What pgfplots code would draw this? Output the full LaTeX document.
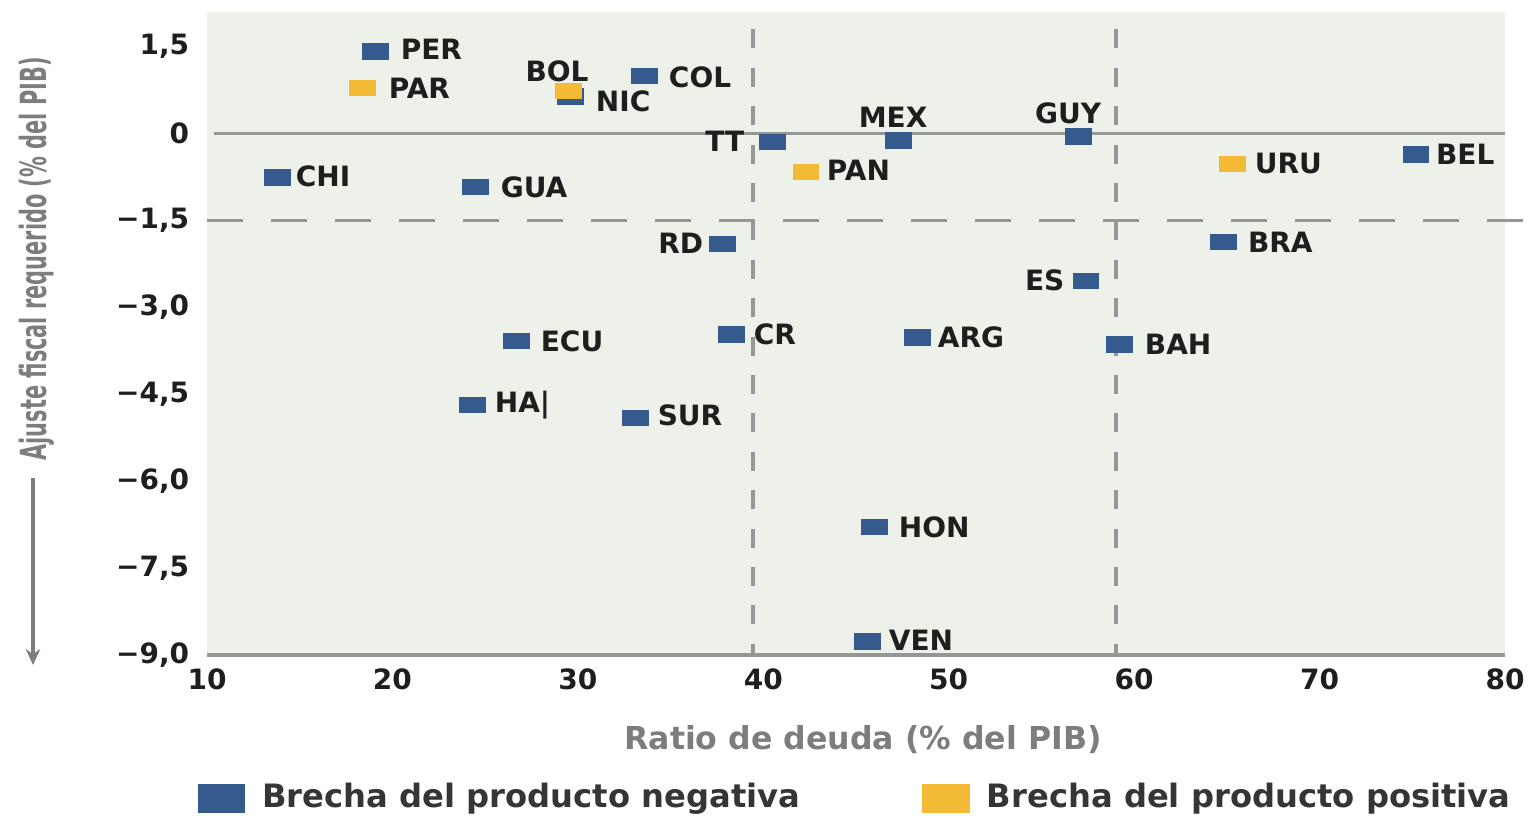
\documentclass[border=0pt]{standalone}
\usepackage{fontspec}
\setmainfont{DejaVu Sans}
\newfontfamily\condfont[FakeStretch=0.58]{DejaVu Sans}
\usepackage{pgfplots}
\pgfplotsset{compat=1.18}
\usetikzlibrary{arrows.meta}

\definecolor{negblue}{RGB}{53,91,142}
\definecolor{posyel}{RGB}{243,186,53}
\definecolor{bgcol}{RGB}{237,241,234}
\definecolor{linecol}{RGB}{150,150,150}
\definecolor{labcol}{RGB}{30,30,30}
\definecolor{titcol}{RGB}{125,125,125}

\begin{document}
\begin{tikzpicture}
\begin{axis}[
    scale only axis,
    width=324.5pt, height=160.75pt,
    xmin=10, xmax=80, ymin=-9, ymax=2.1,
    xtick={10,20,30,40,50,60,70,80},
    xticklabels={10,20,30,40,50,60,70,80},
    ytick={-9,-7.5,-6,-4.5,-3,-1.5,0,1.5},
    yticklabels={{−9,0},{−7,5},{−6,0},{−4,5},{−3,0},{−1,5},{0},{1,5}},
    axis line style={draw=none},
    major tick length=0pt,
    axis background/.style={fill=bgcol},
    tick label style={font=\fontsize{7}{8}\selectfont\bfseries, text=labcol, inner sep=0pt},
    yticklabel style={xshift=-4.25pt},
    xticklabel style={yshift=-3.25pt},
    clip=false,
    legend columns=2,
    legend style={at={(rel axis cs:-0.0077,-0.2235)}, anchor=west,
        draw=none, fill=none, inner sep=0pt,
        font=\fontsize{8.05}{9.6}\selectfont\bfseries, text=labcol!90,
        nodes={inner sep=0pt},
        /tikz/every odd column/.append style={column sep=4.25pt},
        /tikz/every even column/.append style={column sep=30.5pt}},
    legend image code/.code={\fill[#1] (0pt,-3.4pt) rectangle (11.5pt,3.4pt);},
]

% reference lines
\addplot[forget plot, linecol, line width=0.8pt] coordinates {(10,-9) (80,-9)};
\addplot[forget plot, linecol, line width=0.8pt] coordinates {(10.4,0) (80,0)};
\addplot[forget plot, linecol, line width=0.9pt, dash pattern=on 9pt off 7pt]
    coordinates {(10,-1.5) (81.1,-1.5)};
\addplot[forget plot, linecol, line width=1pt, dash pattern=on 4.75pt off 4.85pt]
    coordinates {(39.45,1.8) (39.45,-9)};
\addplot[forget plot, linecol, line width=1pt, dash pattern=on 4.75pt off 4.85pt]
    coordinates {(59.0,1.8) (59.0,-9)};

% negative output gap
\addplot[only marks, mark=square*, mark size=1.85pt, color=negblue,
    mark options={xscale=1.7}] coordinates {
    (19.1,1.42) (33.6,1.0) (29.6,0.64) (40.5,-0.14) (47.3,-0.12)
    (57.0,-0.05) (75.2,-0.36) (13.8,-0.76) (24.5,-0.92) (37.8,-1.9)
    (64.8,-1.87) (57.4,-2.54) (26.7,-3.58) (38.3,-3.47) (48.3,-3.52)
    (59.2,-3.64) (24.3,-4.68) (33.1,-4.91) (46.0,-6.79) (45.6,-8.77)
};
\addlegendentry{Brecha del producto negativa}

% positive output gap
\addplot[only marks, mark=square*, mark size=1.85pt, color=posyel,
    mark options={xscale=1.7}] coordinates {
    (18.4,0.79) (29.5,0.74) (42.3,-0.66) (65.3,-0.52)
};
\addlegendentry{Brecha del producto positiva}

% country labels
\begin{scope}[every node/.style={font=\fontsize{7}{8}\selectfont\bfseries, text=labcol, inner sep=0pt}]
\node[anchor=west] at (axis cs:20.41,1.45) {PER};
\node[anchor=west] at (axis cs:19.76,0.79) {PAR};
\node at (axis cs:28.88,1.07) {BOL};
\node[anchor=west] at (axis cs:30.93,0.55) {NIC};
\node[anchor=west] at (axis cs:34.87,0.98) {COL};
\node[anchor=east] at (axis cs:39.02,-0.14) {TT};
\node at (axis cs:47.0,0.28) {MEX};
\node at (axis cs:56.44,0.35) {GUY};
\node[anchor=west] at (axis cs:43.39,-0.64) {PAN};
\node[anchor=west] at (axis cs:66.47,-0.52) {URU};
\node[anchor=west] at (axis cs:76.24,-0.36) {BEL};
\node[anchor=west] at (axis cs:14.75,-0.74) {CHI};
\node[anchor=west] at (axis cs:25.8,-0.92) {GUA};
\node[anchor=east] at (axis cs:36.8,-1.9) {RD};
\node[anchor=west] at (axis cs:66.1,-1.87) {BRA};
\node[anchor=east] at (axis cs:56.28,-2.54) {ES};
\node[anchor=west] at (axis cs:27.96,-3.58) {ECU};
\node[anchor=west] at (axis cs:39.45,-3.47) {CR};
\node[anchor=west] at (axis cs:49.37,-3.51) {ARG};
\node[anchor=west] at (axis cs:60.54,-3.64) {BAH};
\node[anchor=west] at (axis cs:25.48,-4.68) {HA\textbar};
\node[anchor=west] at (axis cs:34.27,-4.87) {SUR};
\node[anchor=west] at (axis cs:47.27,-6.79) {HON};
\node[anchor=west] at (axis cs:46.73,-8.74) {VEN};
\end{scope}

% axis titles and arrow
\node[font=\fontsize{7.9}{9}\selectfont\bfseries, text=titcol]
    at (rel axis cs:0.5054,-0.132) {Ratio de deuda (\% del PIB)};
\node[rotate=90, font=\condfont\fontsize{9}{10}\selectfont\bfseries, text=titcol]
    at ([xshift=-42.5pt]rel axis cs:0,0.616) {Ajuste fiscal requerido (\% del PIB)};
\draw[titcol, line width=0.8pt, -{Stealth[length=4pt,width=3.6pt]}]
    ([xshift=-43.5pt]rel axis cs:0,0.275) -- ([xshift=-43.5pt]rel axis cs:0,-0.0156);

% page frame
\path (rel axis cs:0,0) ++(-51.75pt,-40pt) rectangle ++(382pt,203.75pt);
\end{axis}
\end{tikzpicture}
\end{document}
